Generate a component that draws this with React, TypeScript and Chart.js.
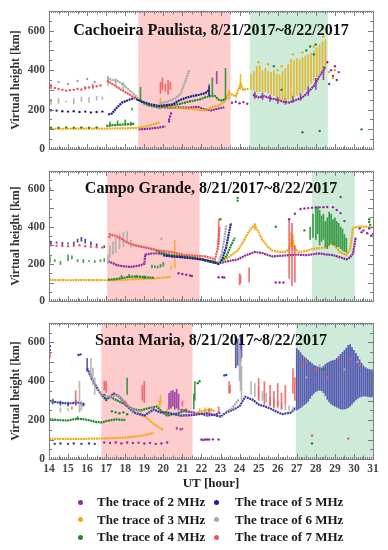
import React, { useEffect, useRef } from 'react';
import { Chart, registerables } from 'chart.js';
Chart.register(...registerables);

type P = [number, number];
type L = P | null;
type B = [number, number, number];

const FONT = '"Liberation Serif", "Times New Roman", Times, serif';
const X_TICKS = [14, 15, 16, 17, 18, 19, 20, 21, 22, 23, 24, 25, 26, 27, 28, 29, 30, 31];
const Y_TICKS = [0, 200, 400, 600];
const LABELS = ['The trace of 2 MHz', 'The trace of 3 MHz', 'The trace of 4 MHz', 'The trace of 5 MHz', 'The trace of 6 MHz', 'The trace of 7 MHz'];
const COLORS = ['#8e2c9c', '#f2a81d', '#1f8a2c', '#20208c', '#a8a8a8', '#f25454'];
const TITLES = ['Cachoeira Paulista, 8/21/2017~8/22/2017', 'Campo Grande, 8/21/2017~8/22/2017', 'Santa Maria, 8/21/2017~8/22/2017'];
const RED_SPANS: [number, number][] = [[18.68, 23.53], [17.05, 21.9], [16.74, 21.53]];
const GREEN_SPANS: [number, number][] = [[24.53, 28.63], [27.8, 30.05], [26.95, 31]];

// ---------------- Cachoeira Paulista ----------------
const cp2Line: L[] = [[18.7, 100], [19.2, 103], [19.7, 108], [20.1, 115], null,
  [19.9, 213], [20.3, 210], [20.8, 211], [21.3, 210], [21.8, 214], [22.2, 200], [22.5, 196], [22.8, 203], [23.2, 212], null,
  [24.7, 275], [25.0, 262], [25.3, 268], [25.7, 255], [26.0, 250], [26.3, 240], [26.6, 236], [27.0, 250], [27.3, 262], [27.6, 290], [27.9, 320], [28.2, 370], [28.5, 415]];
const cp2Dots: P[] = [[23.6, 235], [23.8, 240], [24.0, 232], [24.2, 238], [24.4, 230], [28.6, 440], [28.8, 400], [28.9, 370], [29.0, 420], [29.1, 350], [29.2, 390], [28.7, 330], [20.3, 150], [20.35, 165], [20.4, 180], [20.3, 140]];
const cp2Bars: B[] = [[22.8, 330, 395], [24.8, 255, 290], [25.2, 250, 285], [25.6, 240, 275], [26.0, 230, 265], [26.4, 225, 260], [26.8, 235, 270], [27.2, 245, 285], [27.6, 270, 320], [28.0, 300, 360], [28.4, 350, 420]];

const cp3Line: L[] = [[14.0, 103], [15.0, 103], [16.0, 104], [17.0, 104], [18.0, 105], [18.7, 108], [19.2, 118], [19.8, 135], null,
  [19.85, 219], [20.2, 214], [20.5, 211], [21.2, 206], [21.8, 200], [22.2, 196], [22.6, 215], [22.9, 220], [23.2, 240], [23.45, 283], [23.8, 267], [24.05, 330], [24.2, 300], [24.5, 306]];
const cp3Dots: P[] = [[25.0, 440], [25.5, 430], [26.2, 420], [26.8, 480], [27.3, 490], [27.9, 520], [28.4, 570], [26.0, 400], [28.7, 390], [28.9, 360], [29.0, 400]];
const cp3Bars: B[] = [[19.85, 200, 260], [24.05, 300, 380], [23.45, 250, 300],
  [24.6, 300, 380], [24.75, 295, 395], [24.9, 290, 420], [25.05, 290, 425], [25.2, 288, 400], [25.35, 290, 410], [25.5, 282, 395], [25.65, 276, 390], [25.8, 270, 400],
  [25.95, 258, 380], [26.1, 250, 378], [26.25, 246, 395], [26.4, 243, 410], [26.55, 248, 430], [26.7, 255, 455], [26.85, 262, 450], [27.0, 270, 460], [27.15, 275, 455],
  [27.3, 285, 465], [27.45, 298, 473], [27.6, 315, 480], [27.75, 332, 489], [27.9, 348, 500], [28.05, 365, 515], [28.2, 380, 530], [28.35, 400, 545], [28.5, 415, 555]];

const cp4Line: L[] = [[17.0, 118], [17.5, 122], [18.0, 125], [18.5, 128], null,
  [18.6, 250], [18.8, 245], [19.05, 227], [19.4, 218], [19.75, 211], [20.2, 220], [20.8, 227], [21.3, 240], [21.86, 250], [22.2, 262], [22.4, 267], [22.7, 270], [22.9, 250], [23.1, 245], [23.26, 255]];
const cp4Dots: P[] = [[14.1, 108], [14.5, 108], [14.9, 110], [15.3, 108], [15.7, 110], [16.1, 108], [16.5, 110], [27.5, 500], [27.7, 520], [27.9, 480], [28.0, 530], [27.3, 85], [28.2, 92], [30.4, 100], [26.2, 300], [25.8, 420]];
const cp4Bars: B[] = [[17.2, 115, 140], [17.6, 118, 145], [18.0, 120, 150], [18.3, 118, 140], [18.35, 195, 210], [18.8, 250, 315], [22.4, 265, 330], [23.26, 250, 410], [22.57, 267, 362]];

const cp5Line: L[] = [[17.1, 175], [17.3, 180], [17.56, 210], [17.82, 235], [18.2, 250], [18.5, 259], [18.8, 243], [19.05, 235], [19.4, 225], [19.75, 219], [20.1, 222], [20.5, 227], [20.8, 245], [21.16, 259], [21.5, 268], [21.86, 275], [22.2, 283], [22.4, 300]];
const cp5Dots: P[] = [[14.1, 197], [14.4, 195], [14.7, 192], [15.0, 190], [15.3, 192], [15.6, 188], [15.9, 190], [16.2, 186], [16.5, 188], [16.8, 190]];
const cp5Bars: B[] = [[22.4, 270, 320]];

const cp6Line: L[] = [[17.04, 362], [17.3, 350], [17.6, 345], [17.9, 325], [18.2, 300], [18.5, 275], [18.7, 255], null,
  [19.8, 232], [20.2, 240], [20.6, 255], [20.9, 280], [21.1, 330], [21.25, 370], [21.35, 400]];
const cp6Dots: P[] = [[14.5, 340], [15.0, 330], [15.5, 345], [16.0, 355], [16.4, 340]];
const cp6Bars: B[] = [[14.1, 225, 255], [14.5, 230, 260], [14.9, 235, 245], [15.3, 228, 258], [15.7, 240, 265], [16.1, 235, 262], [16.5, 245, 270], [16.8, 250, 265], [17.1, 320, 370], [17.5, 320, 360], [17.9, 300, 340]];

const cp7Line: L[] = [[17.04, 346], [17.4, 325], [17.8, 300], [18.2, 278], [18.53, 259]];
const cp7Dots: P[] = [[14.1, 318], [14.3, 310], [14.5, 305], [14.7, 300], [14.9, 296], [15.1, 298], [15.3, 300], [15.5, 305], [15.7, 302], [15.9, 310], [16.1, 312], [16.3, 316], [16.5, 318], [16.7, 322]];
const cp7Bars: B[] = [[14.1, 305, 330], [15.9, 300, 320], [16.3, 305, 330], [19.85, 280, 340], [19.95, 300, 362], [20.1, 290, 330], [20.25, 275, 350], [20.37, 300, 340]];

// ---------------- Campo Grande ----------------
const cg2Line: L[] = [[17.1, 215], [17.6, 192], [18.0, 186], [18.3, 184], [18.8, 192], [19.0, 200], [19.05, 250], [19.4, 256], [19.75, 256], [20.1, 250], [20.45, 240], [21.0, 236], [21.5, 232], [22.0, 222], [22.5, 210], [22.9, 203], [23.4, 215], [23.9, 224], [24.3, 245], [24.8, 264], [25.2, 258], [25.7, 240], [26.2, 244], [26.6, 247], [27.0, 250], [27.5, 247], [28.0, 254], [28.2, 256], [28.6, 250], [28.9, 247], [29.3, 235], [29.6, 224], [29.8, 235], [29.95, 256], [30.1, 344]];
const cg2Dots: P[] = [[26.6, 440], [26.9, 470], [27.2, 495], [27.4, 498], [27.6, 500], [27.8, 502], [28.0, 503], [28.2, 504], [28.4, 505], [28.6, 506], [28.9, 505], [29.1, 490], [29.3, 473], [29.5, 430],
  [20.8, 150], [21.0, 146], [21.2, 142], [21.4, 138], [21.5, 135], [22.9, 128], [23.1, 128], [23.2, 127], [25.9, 100], [26.1, 100], [26.3, 100],
  [30.3, 390], [30.5, 380], [30.7, 365], [30.9, 350], [31.0, 360], [30.4, 370], [30.8, 390]];
const cg2Bars: B[] = [];

const cg3Line: L[] = [[14.0, 114], [15.0, 112], [16.0, 113], [17.0, 112], [17.5, 113], [18.0, 115], [18.5, 118], [19.0, 120], [19.5, 122], [20.0, 126], [20.4, 130], null,
  [20.8, 247], [21.2, 240], [21.6, 232], [22.0, 225], [22.5, 215], [22.9, 205], [23.3, 225], [23.6, 250], [23.9, 272], [24.2, 320], [24.4, 360], [24.6, 390], [24.8, 408], [25.0, 370], [25.2, 328], [25.5, 290], [25.7, 272], [26.0, 266], [26.4, 264], [26.6, 280], [26.77, 328], [26.9, 280], [27.12, 264], [27.5, 270], [27.82, 280], [28.2, 285], [28.5, 288], [28.7, 300], [28.9, 312], [29.1, 285], [29.25, 264], [29.6, 247], [29.8, 280], [29.95, 393], [30.2, 400], [30.6, 400], [31.0, 395]];
const cg3Dots: P[] = [];
const cg3Bars: B[] = [[20.6, 176, 328], [20.4, 168, 190], [26.7, 290, 370], [26.8, 270, 360], [24.8, 380, 420]];

const cg4Line: L[] = [[17.1, 115], [17.5, 118], [17.9, 125], [18.3, 132], [18.7, 132], [19.1, 128], [19.5, 125], null,
  [19.6, 272], [19.9, 260], [20.2, 252], [20.45, 247], [20.8, 243], [21.2, 240], [21.6, 235], [22.0, 225], [22.5, 215], [22.9, 205], [23.0, 210], [23.3, 240], [23.55, 300], [23.75, 340]];
const cg4Dots: P[] = [[29.3, 560], [22.99, 440], [30.8, 440], [30.85, 410], [30.8, 425], [27.4, 380], [25.9, 400], [23.9, 555], [23.9, 540]];
const cg4Bars: B[] = [[14.05, 205, 240], [14.3, 210, 225], [14.6, 195, 215], [15.0, 215, 250], [15.2, 225, 245], [15.5, 210, 225], [15.8, 205, 225], [16.1, 210, 220], [16.4, 205, 220], [16.7, 210, 225], [16.9, 210, 230],
  [17.8, 120, 140], [18.2, 125, 145], [18.6, 125, 140], [19.0, 120, 138], [19.4, 176, 195], [19.55, 178, 192], [19.7, 176, 190], [19.85, 180, 200], [20.0, 185, 210],
  [27.7, 330, 400], [27.85, 340, 470], [28.0, 330, 500], [28.1, 360, 510], [28.2, 300, 490], [28.3, 320, 460], [28.4, 330, 470], [28.5, 290, 430], [28.6, 280, 450], [28.7, 300, 480],
  [28.8, 310, 470], [28.9, 300, 440], [29.0, 300, 450], [29.1, 290, 430], [29.2, 290, 420], [29.3, 280, 400], [29.4, 270, 390], [29.5, 265, 360], [29.6, 260, 340]];

const cg5Line: L[] = [[20.0, 245], [20.5, 240], [21.0, 236], [21.5, 230], [22.0, 225], [22.5, 212], [22.9, 200], [23.1, 230], [23.3, 290], [23.45, 370], [23.55, 420]];
const cg5Dots: P[] = [];
const cg5Bars: B[] = [[14.1, 305, 325], [14.4, 310, 320], [14.7, 300, 318], [15.0, 305, 315], [15.3, 300, 320], [15.5, 315, 335], [15.7, 320, 345], [15.9, 310, 335], [16.2, 300, 320], [16.5, 295, 310], [16.9, 285, 300]];

const cg6Line: L[] = [[18.4, 305], [18.8, 295], [19.2, 285], [19.6, 275], null, [22.9, 205], [23.05, 250], [23.2, 330], [23.3, 410]];
const cg6Dots: P[] = [[19.9, 335]];
const cg6Bars: B[] = [[17.1, 200, 250], [17.2, 230, 300], [17.35, 250, 320], [17.5, 260, 340], [17.7, 280, 360], [17.9, 290, 370], [18.1, 311, 375], [18.3, 290, 330]];

const cg7Line: L[] = [[17.15, 340], [17.2, 359], [17.5, 350], [17.8, 335], [18.1, 315], [18.35, 303], [18.7, 295], [19.05, 288], [19.4, 280], [19.75, 272], [20.1, 268], [20.45, 264], [20.8, 255], [21.16, 247], [21.6, 245], [22.2, 240], [22.5, 232], [22.7, 224], [22.85, 280], [22.95, 400]];
const cg7Dots: P[] = [[14.1, 300], [14.4, 298], [14.7, 296], [15.0, 295], [15.3, 298], [15.6, 300], [15.9, 295], [16.2, 292], [16.5, 290], [16.8, 288], [14.05, 605]];
const cg7Bars: B[] = [[22.9, 300, 440], [24.0, 85, 150], [24.05, 95, 140], [24.5, 100, 180], [26.6, 120, 440], [26.75, 80, 420], [26.9, 100, 300]];

// ---------------- Santa Maria ----------------
const sm2Line: L[] = [[20.9, 255], [21.2, 245], [21.6, 239], [22.0, 232], [22.3, 223], [22.7, 228], [23.0, 239]];
const sm2Dots: P[] = [[16.9, 85], [17.2, 82], [17.5, 85], [17.8, 80], [18.1, 85], [18.4, 82], [18.7, 84], [19.0, 80], [19.3, 83], [19.6, 78], [19.9, 80], [20.2, 85],
  [22.0, 100], [22.2, 100], [22.3, 100], [22.4, 100], [22.6, 101], [22.9, 100], [22.1, 98]];
const sm2Bars: B[] = [[20.3, 255, 340], [20.4, 260, 350], [20.5, 270, 355], [20.6, 255, 345], [20.7, 260, 360], [20.8, 250, 335], [20.7, 150, 165], [20.9, 145, 160], [21.0, 150, 160]];

const sm3Line: L[] = [[14.0, 104], [15.0, 104], [16.0, 104], [17.0, 106], [17.5, 108], [18.0, 110], [18.5, 115], [19.0, 122], [19.5, 135], null,
  [18.8, 235], [19.0, 223], [19.2, 205], [19.5, 180], [19.8, 160], [20.0, 150], null,
  [21.6, 225], [21.8, 240], [22.2, 250], [22.5, 255], [22.7, 245]];
const sm3Dots: P[] = [];
const sm3Bars: B[] = [[19.85, 280, 330], [20.2, 220, 260], [21.9, 235, 262], [22.2, 240, 265], [22.5, 240, 260], [19.8, 255, 304]];

const sm4Line: L[] = [[14.0, 205], [14.5, 200], [15.0, 198], [15.5, 208], [16.0, 202], [16.5, 190], [16.8, 188], [17.0, 195], [17.5, 204], [18.0, 200], null,
  [17.2, 320], [17.6, 300], [18.0, 280], [18.45, 255], [18.8, 250], [19.1, 258], [19.4, 265], [19.65, 270], [19.9, 245], [20.2, 223], [20.5, 230], [20.9, 239], [21.25, 255]];
const sm4Dots: P[] = [[17.3, 245], [17.5, 240], [17.7, 235], [17.9, 240], [18.1, 230], [16.9, 330], [17.0, 310], [21.8, 390], [21.9, 400], [27.8, 80], [28.4, 460]];
const sm4Bars: B[] = [[18.1, 330, 418], [21.6, 255, 337], [21.65, 300, 400], [14.0, 195, 215], [15.5, 200, 220]];

const sm5Line: L[] = [[14.0, 300], [14.5, 290], [15.0, 285], [15.5, 290], [15.9, 280], null,
  [16.0, 467], [16.3, 402], [16.7, 337], [17.0, 304], [17.4, 337], [17.7, 320], [18.1, 272], [18.45, 239], [19.0, 223], [19.5, 255], [19.8, 240], [20.2, 239], [20.9, 223], [21.4, 225], [22.0, 232], [22.3, 235], [22.7, 225], [23.0, 218], [23.3, 239], [23.7, 255], [24.0, 272], [24.3, 320], [24.7, 304], [25.0, 280], [25.4, 268], [25.7, 255], [26.0, 240], [26.25, 231], [26.7, 239], [26.95, 264]];
const sm5Dots: P[] = [[14.05, 580], [14.05, 560], [15.55, 535], [15.65, 538], [14.3, 78], [14.6, 80], [15.0, 78], [15.3, 80], [15.7, 78], [16.1, 80], [16.4, 78], [23.2, 430], [23.3, 432]];
const sm5Bars: B[] = [[14.2, 280, 310], [14.6, 275, 300], [15.0, 270, 295], [15.4, 275, 305], [15.8, 270, 290], [23.8, 467, 630], [23.9, 480, 620], [24.05, 500, 640], [24.1, 520, 630], [16.0, 450, 520],
  [27.0, 250, 570], [27.1, 255, 560], [27.2, 262, 548], [27.3, 270, 535], [27.4, 278, 525], [27.5, 285, 518], [27.6, 295, 510], [27.7, 310, 500], [27.8, 325, 492], [27.9, 335, 485],
  [28.0, 345, 480], [28.1, 350, 475], [28.2, 352, 472], [28.3, 350, 470], [28.4, 340, 478], [28.5, 325, 488], [28.6, 305, 495], [28.7, 292, 500], [28.8, 282, 505], [28.9, 275, 508],
  [29.0, 270, 510], [29.1, 265, 520], [29.2, 260, 530], [29.3, 256, 540], [29.4, 254, 550], [29.5, 255, 560], [29.6, 258, 572], [29.7, 262, 585], [29.8, 270, 590], [29.9, 280, 575],
  [30.0, 292, 560], [30.1, 302, 545], [30.2, 310, 530], [30.3, 316, 512], [30.4, 320, 495], [30.5, 322, 480], [30.6, 322, 472], [30.7, 320, 466], [30.8, 318, 462], [30.9, 318, 460], [31.0, 320, 460]];

const sm6Line: L[] = [[16.5, 360], [16.8, 330], [17.2, 320], [17.6, 330], [18.0, 290], [18.4, 250], [18.9, 245], null, [23.3, 245], [23.6, 260], [23.9, 300], [24.0, 304]];
const sm6Dots: P[] = [[27.5, 420], [28.2, 480], [29.5, 460], [30.2, 500]];
const sm6Bars: B[] = [[14.6, 240, 265], [15.0, 245, 260], [15.6, 239, 402], [15.7, 250, 300], [16.3, 380, 470], [16.4, 330, 420], [16.2, 420, 520],
  [24.0, 402, 600], [24.05, 350, 560], [24.1, 300, 480], [24.6, 330, 400], [24.8, 320, 390], [25.0, 310, 370], [25.2, 300, 350], [25.4, 290, 340], [25.6, 275, 320], [25.8, 270, 310], [26.0, 260, 300], [26.2, 255, 290], [26.4, 250, 280], [26.6, 250, 275], [26.8, 245, 270]];

const sm7Line: L[] = [];
const sm7Dots: P[] = [[27.5, 500], [28.0, 460], [28.6, 420], [29.2, 520], [29.8, 510], [30.3, 480], [27.3, 480], [29.7, 105], [27.8, 120]];
const sm7Bars: B[] = [[14.05, 520, 545], [15.2, 255, 270], [15.4, 288, 353], [16.9, 353, 402], [17.0, 340, 400], [18.0, 270, 300], [18.9, 300, 380], [19.0, 288, 402], [21.0, 270, 300], [23.45, 335, 400], [23.5, 340, 380],
  [25.0, 300, 417], [25.3, 280, 400], [25.6, 270, 380], [25.8, 260, 350], [26.0, 270, 390], [26.2, 255, 340], [26.4, 280, 380], [26.8, 335, 467], [26.9, 300, 420], [22.4, 235, 260], [22.9, 240, 270]];

interface Series { line: L[]; dots: P[]; bars: B[] }
const PANEL_SERIES: Series[][] = [
  [{ line: cp2Line, dots: cp2Dots, bars: cp2Bars }, { line: cp3Line, dots: cp3Dots, bars: cp3Bars }, { line: cp4Line, dots: cp4Dots, bars: cp4Bars },
   { line: cp5Line, dots: cp5Dots, bars: cp5Bars }, { line: cp6Line, dots: cp6Dots, bars: cp6Bars }, { line: cp7Line, dots: cp7Dots, bars: cp7Bars }],
  [{ line: cg2Line, dots: cg2Dots, bars: cg2Bars }, { line: cg3Line, dots: cg3Dots, bars: cg3Bars }, { line: cg4Line, dots: cg4Dots, bars: cg4Bars },
   { line: cg5Line, dots: cg5Dots, bars: cg5Bars }, { line: cg6Line, dots: cg6Dots, bars: cg6Bars }, { line: cg7Line, dots: cg7Dots, bars: cg7Bars }],
  [{ line: sm2Line, dots: sm2Dots, bars: sm2Bars }, { line: sm3Line, dots: sm3Dots, bars: sm3Bars }, { line: sm4Line, dots: sm4Dots, bars: sm4Bars },
   { line: sm5Line, dots: sm5Dots, bars: sm5Bars }, { line: sm6Line, dots: sm6Dots, bars: sm6Bars }, { line: sm7Line, dots: sm7Dots, bars: sm7Bars }],
];

const LAYOUT = [
  { top: 0, height: 160, padTop: 10, padBottom: 4, showX: false },
  { top: 160, height: 152, padTop: 3, padBottom: 4, showX: false },
  { top: 312, height: 183, padTop: 3, padBottom: 0, showX: true },
];

function toLine(arr: L[]) {
  const out: any[] = [];
  let lastX = 14;
  for (const p of arr) {
    if (p === null) out.push({ x: lastX, y: null });
    else { out.push({ x: p[0], y: p[1] }); lastX = p[0]; }
  }
  return out;
}

function alpha(hex: string, a: number) {
  const n = parseInt(hex.slice(1), 16);
  return `rgba(${(n >> 16) & 255},${(n >> 8) & 255},${n & 255},${a})`;
}

function Panel({ idx }: { idx: number }) {
  const ref = useRef<HTMLCanvasElement>(null);
  const lay = LAYOUT[idx];
  useEffect(() => {
    const series = PANEL_SERIES[idx];
    const colors = COLORS.slice();
    if (idx === 2) colors[3] = '#3c3ca8';
    if (idx === 0) colors[1] = '#e6ad12';
    const bottom: any[] = [];
    series.forEach((s, i) => {
      if (s.bars.length) bottom.push({ type: 'bar', data: s.bars.map(([t, lo, hi]) => ({ x: t, y: [lo, hi] })), backgroundColor: alpha(colors[i], 0.82), barThickness: 1.7, inflateAmount: 0, grouped: false, borderWidth: 0 });
      if (s.line.length) bottom.push({ type: 'line', data: toLine(s.line), borderColor: colors[i], backgroundColor: colors[i], borderWidth: 2.2, borderDash: [2, 0.6], pointRadius: 0, spanGaps: false, tension: 0, fill: false });
    });
    series.forEach((s, i) => {
      if (s.dots.length) bottom.push({ type: 'scatter', data: s.dots.map(([t, h]) => ({ x: t, y: h })), pointRadius: 1.2, pointBorderWidth: 0, backgroundColor: colors[i], borderColor: colors[i], showLine: false });
    });
    const datasets = bottom.reverse();
    const red = RED_SPANS[idx], green = GREEN_SPANS[idx];
    const decor = {
      id: 'decor',
      beforeDatasetsDraw(chart: any) {
        const { ctx, chartArea: a, scales: { x } } = chart;
        ctx.save();
        ctx.fillStyle = '#fdcdcd';
        let x1 = x.getPixelForValue(red[0]), x2 = x.getPixelForValue(red[1]);
        ctx.fillRect(x1, a.top, x2 - x1, a.bottom - a.top);
        ctx.fillStyle = '#cdebd8';
        x1 = x.getPixelForValue(green[0]); x2 = x.getPixelForValue(green[1]);
        ctx.fillRect(x1, a.top, x2 - x1, a.bottom - a.top);
        ctx.restore();
      },
      afterDatasetsDraw(chart: any) {
        const { ctx, chartArea: a, scales: { x, y } } = chart;
        ctx.save();
        ctx.strokeStyle = '#7a7a7a';
        ctx.lineWidth = 1;
        ctx.beginPath();
        for (let k = 0; k <= 170; k++) {
          const px = Math.round(x.getPixelForValue(14 + k / 10)) + 0.5;
          const len = k % 10 === 0 ? 5 : k % 5 === 0 ? 3.5 : 2;
          ctx.moveTo(px, a.bottom); ctx.lineTo(px, a.bottom - len);
          ctx.moveTo(px, a.top); ctx.lineTo(px, a.top + len);
        }
        for (let v = 0; v <= 700; v += 50) {
          const py = Math.round(y.getPixelForValue(v)) + 0.5;
          const len = v % 100 === 0 ? 5 : 3;
          ctx.moveTo(a.left, py); ctx.lineTo(a.left + len, py);
          ctx.moveTo(a.right, py); ctx.lineTo(a.right - len, py);
        }
        ctx.stroke();
        ctx.strokeStyle = '#808080';
        ctx.strokeRect(Math.round(a.left) + 0.5, Math.round(a.top) + 0.5, Math.round(a.right - a.left), Math.round(a.bottom - a.top));
        ctx.fillStyle = '#111';
        ctx.font = 'bold 16px ' + FONT;
        ctx.textAlign = 'center';
        ctx.textBaseline = 'middle';
        ctx.fillText(TITLES[idx], (a.left + a.right) / 2, a.top + (idx === 0 ? 20 : 18));
        ctx.restore();
      },
    };
    const tickFont = { family: FONT, size: 11.5, weight: 'bold' as const };
    const xScale: any = {
      type: 'linear', min: 14, max: 31, offset: false, display: lay.showX,
      afterBuildTicks: (s: any) => { s.ticks = X_TICKS.map(v => ({ value: v })); },
      ticks: { autoSkip: false, maxRotation: 0, padding: 3, font: tickFont, color: '#444' },
      grid: { display: false, drawTicks: false, offset: false },
      border: { display: false },
      title: { display: true, text: 'UT [hour]', font: { family: FONT, size: 13, weight: 'bold' }, color: '#222', padding: { top: 0, bottom: 4 } },
    };
    if (lay.showX) xScale.afterFit = (s: any) => { s.height = 36; };
    const chart = new Chart(ref.current as HTMLCanvasElement, {
      type: 'scatter',
      data: { datasets },
      options: {
        responsive: false,
        animation: false,
        events: [],
        layout: { padding: { left: 0, right: 15, top: lay.padTop, bottom: lay.padBottom } },
        plugins: { legend: { display: false }, tooltip: { enabled: false } },
        scales: {
          x: xScale,
          y: {
            type: 'linear', min: 0, max: 700,
            afterBuildTicks: (s: any) => { s.ticks = Y_TICKS.map(v => ({ value: v })); },
            afterFit: (s: any) => { s.width = 49; },
            ticks: { padding: 4, font: tickFont, color: '#444' },
            grid: { display: false, drawTicks: false },
            border: { display: false },
            title: { display: true, text: 'Virtual height [km]', font: { family: FONT, size: 12, weight: 'bold' }, color: '#333', padding: { top: 9, bottom: 0 } },
          },
        },
      } as any,
      plugins: [decor],
    });
    return () => chart.destroy();
  }, [idx]);
  return (
    <canvas ref={ref} width={388} height={lay.height}
      style={{ position: 'absolute', left: 0, top: lay.top, width: 388, height: lay.height, display: 'block' }} />
  );
}

function Legend() {
  const items = LABELS.map((label, i) => {
    const col = i < 3 ? 0 : 1;
    const row = i % 3;
    const dotX = col === 0 ? 80 : 216;
    const textX = col === 0 ? 97 : 235;
    const cy = 502 + row * 17.5;
    return (
      <React.Fragment key={label}>
        <span style={{ position: 'absolute', left: dotX - 2.5, top: cy - 2.5, width: 5, height: 5, borderRadius: '50%', background: COLORS[i] }} />
        <span style={{ position: 'absolute', left: textX, top: cy - 9, height: 18, lineHeight: '18px', fontFamily: FONT, fontWeight: 'bold', fontSize: 13, color: '#1a1a1a', whiteSpace: 'nowrap' }}>{label}</span>
      </React.Fragment>
    );
  });
  return <>{items}</>;
}

export default function App() {
  return (
    <div style={{ position: 'absolute', left: 0, top: 0, width: 388, height: 550, background: '#fff', overflow: 'hidden' }}>
      <Panel idx={0} />
      <Panel idx={1} />
      <Panel idx={2} />
      <Legend />
    </div>
  );
}
